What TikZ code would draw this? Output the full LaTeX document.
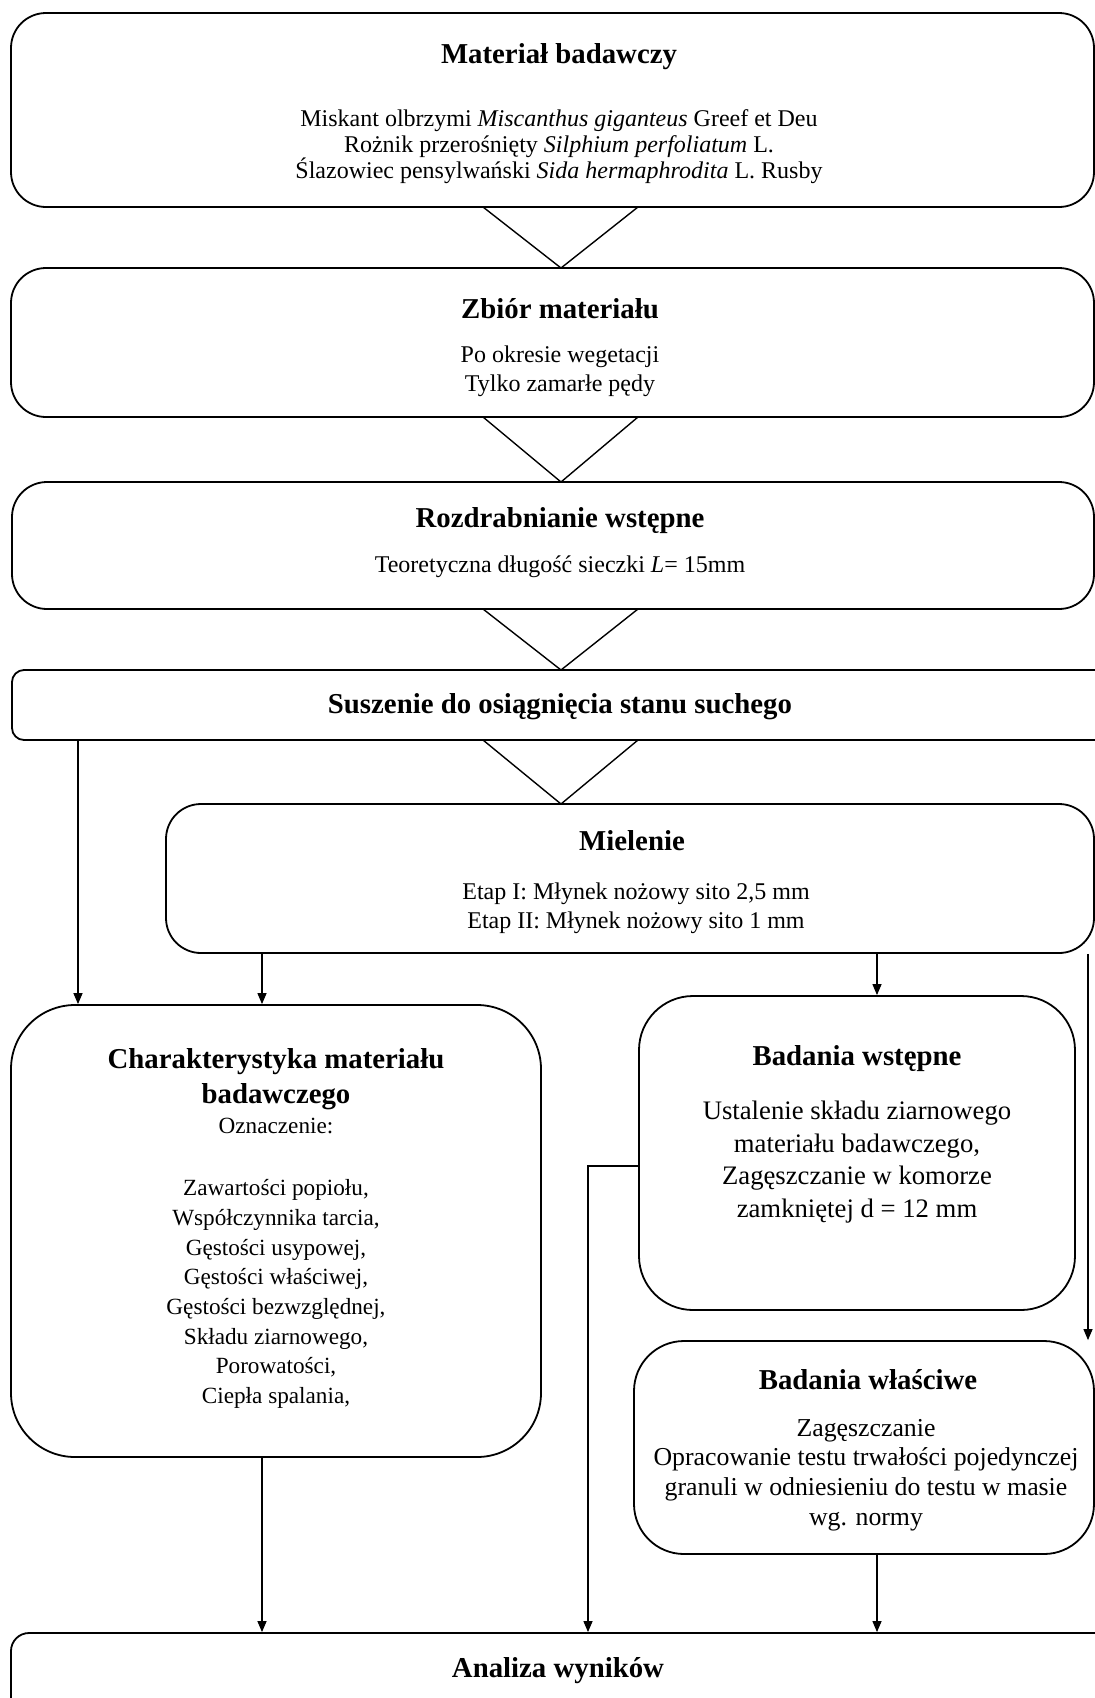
\documentclass[tikz,border=0pt]{standalone}
\usepackage{fontspec}
\setmainfont{Liberation Serif}
\usetikzlibrary{arrows.meta}
\begin{document}
\begin{tikzpicture}[x=0.5pt,y=-0.5pt,
  box/.style={draw, line width=0.9pt, inner sep=0pt, rounded corners=17.5pt},
  arr/.style={line width=0.6pt, -{Triangle[length=5.5pt,width=4.5pt]}},
  tri/.style={line width=0.7pt},
  ttl/.style={font=\fontsize{14.4}{17.5}\selectfont\bfseries, align=center, inner sep=0pt},
  bodyA/.style={font=\fontsize{12}{13}\selectfont, align=center, inner sep=0pt},
  bodyB/.style={font=\fontsize{12}{14.5}\selectfont, align=center, inner sep=0pt},
  bodyC/.style={font=\fontsize{11.6}{14.85}\selectfont, align=center, inner sep=0pt},
  bodyD/.style={font=\fontsize{13.35}{16.25}\selectfont, align=center, inner sep=0pt},
  bodyE/.style={font=\fontsize{12.9}{14.8}\selectfont, align=center, inner sep=0pt}]
\useasboundingbox (0,0) rectangle (1095,1698);
\clip (0,0) rectangle (1095,1698);

% boxes
\node[box, minimum width=541.5pt, minimum height=97pt] (b1) at (552.5,110) {};
\node[box, minimum width=541.5pt, minimum height=74.5pt] (b2) at (552.5,342.5) {};
\node[box, minimum width=541pt, minimum height=63.5pt] (b3) at (553,545.5) {};
\node[box, rounded corners=6pt, minimum width=551.5pt, minimum height=35pt] (b4) at (563.5,705) {};
\node[box, minimum width=464pt, minimum height=74.5pt] (b5) at (630,878.5) {};
\node[box, rounded corners=32pt, minimum width=265pt, minimum height=226pt] (b6) at (276,1231) {};
\node[box, rounded corners=27pt, minimum width=218pt, minimum height=157pt] (b7) at (857,1153) {};
\node[box, rounded corners=25pt, minimum width=230pt, minimum height=106.5pt] (b8) at (864,1447.5) {};
\node[box, rounded corners=9pt, minimum width=552pt, minimum height=63.5pt] (b9) at (563,1696.5) {};

% triangles between stages
\draw[tri] (483,207) -- (561,268) -- (638,207);
\draw[tri] (483,417) -- (561,482) -- (638,417);
\draw[tri] (483,609) -- (561,670) -- (638,609);
\draw[tri] (483,740) -- (561,804) -- (638,740);

% texts
\node[ttl] (t1) at (559,57) {Materiał badawczy};
\node[bodyA] (s1) at (559,147) {Miskant olbrzymi \textit{Miscanthus giganteus} Greef et Deu\\
Rożnik przerośnięty \textit{Silphium perfoliatum} L.\\
Ślazowiec pensylwański \textit{Sida hermaphrodita} L. Rusby};
\node[ttl] (t2) at (560,309) {Zbiór materiału};
\node[bodyB] (s2) at (560,371) {Po okresie wegetacji\\Tylko zamarłe pędy};
\node[ttl] (t3) at (560,521) {Rozdrabnianie wstępne};
\node[bodyB] (s3) at (560,567) {Teoretyczna długość sieczki \textit{L}= 15mm};
\node[ttl] (t4) at (560,707) {Suszenie do osiągnięcia stanu suchego};
\node[ttl] (t5) at (632,841) {Mielenie};
\node[bodyB] (s5) at (636,908) {Etap I: Młynek nożowy sito 2,5 mm\\Etap II: Młynek nożowy sito 1 mm};
\node[ttl] (t6) at (276,1079) {Charakterystyka materiału\\badawczego};
\node[bodyC] (o6) at (276,1126) {Oznaczenie:};
\node[bodyC] (s6) at (276,1294) {Zawartości popiołu,\\Współczynnika tarcia,\\Gęstości usypowej,\\Gęstości właściwej,\\Gęstości bezwzględnej,\\Składu ziarnowego,\\Porowatości,\\Ciepła spalania,};
\node[ttl] (t7) at (857,1059) {Badania wstępne};
\node[bodyD] (s7) at (857,1162) {Ustalenie składu ziarnowego\\materiału badawczego,\\Zagęszczanie w komorze\\zamkniętej d = 12 mm};
\node[ttl] (t8) at (868,1380) {Badania właściwe};
\node[bodyE] (s8) at (866,1475) {Zagęszczanie\\Opracowanie testu trwałości pojedynczej\\granuli w odniesieniu do testu w masie\\wg. normy};
\node[ttl] (t9) at (558,1671) {Analiza wyników};

% connectors
\coordinate (lx) at (78,0);
\coordinate (cx) at (262,0);
\coordinate (mx) at (877,0);
\coordinate (rx) at (1088,0);
\coordinate (j) at (588,1166);
\draw[arr] (lx |- b4.south) -- (lx |- b6.north);
\draw[arr] (cx |- b5.south) -- (cx |- b6.north);
\draw[arr] (mx |- b5.south) -- (mx |- b7.north);
\draw[arr] (rx |- b5.south) -- (rx |- b8.north);
\draw[arr] (b7.west |- j) -- (j) -- (j |- b9.north);
\draw[arr] (cx |- b6.south) -- (cx |- b9.north);
\draw[arr] (mx |- b8.south) -- (mx |- b9.north);
\end{tikzpicture}
\end{document}
